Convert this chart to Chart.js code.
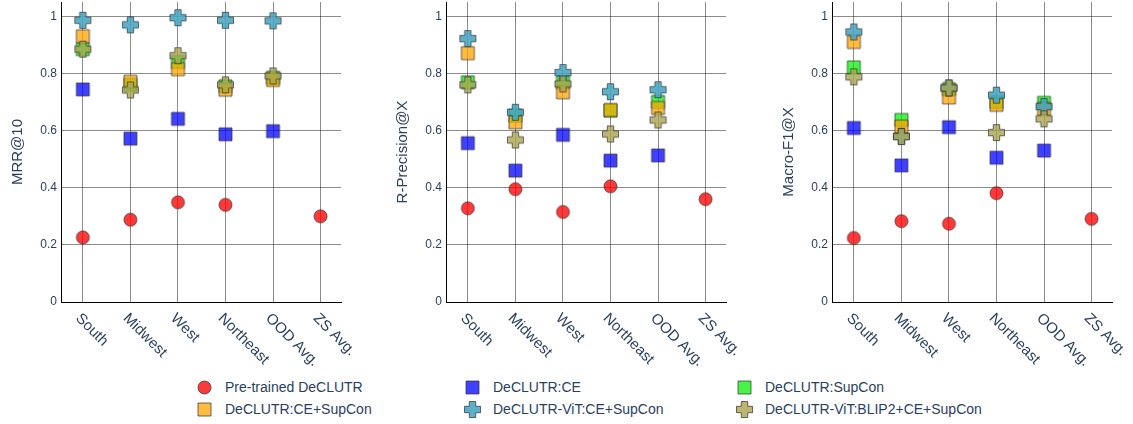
<!DOCTYPE html>
<html>
<head>
<meta charset="utf-8">
<script src="https://cdn.jsdelivr.net/npm/chart.js@4.4.0/dist/chart.umd.min.js"></script>
<style>
  body { margin: 0; background: #fff; width: 1133px; height: 424px; position: relative; overflow: hidden;
         font-family: "Liberation Sans", Arial, sans-serif; }
  canvas.panel { position: absolute; top: 0; }
  .leg { position: absolute; font-size: 14px; color: #2a3f5f; line-height: 18px; white-space: nowrap; }
  .leg canvas { position: absolute; left: -30px; top: 0; }
</style>
</head>
<body>
<canvas id="c1" class="panel" width="360" height="372" style="left:0px"></canvas>
<canvas id="c2" class="panel" width="360" height="372" style="left:385px"></canvas>
<canvas id="c3" class="panel" width="360" height="372" style="left:771px"></canvas>
<div id="legend"></div>
<script>
const regions = ['South', 'Midwest', 'West', 'Northeast', 'OOD Avg.', 'ZS Avg.'];
const seriesNames = ['Pre-trained DeCLUTR', 'DeCLUTR:CE', 'DeCLUTR:SupCon',
  'DeCLUTR:CE+SupCon', 'DeCLUTR-ViT:CE+SupCon', 'DeCLUTR-ViT:BLIP2+CE+SupCon'];
const yTicks = [0, 0.2, 0.4, 0.6, 0.8, 1];

// rows follow seriesNames, columns follow regions
const mrrValues = [
  [0.226, 0.288, 0.349, 0.340, null, 0.300],
  [0.744, 0.572, 0.641, 0.587, 0.598, null],
  [0.885, 0.760, 0.840, 0.755, 0.785, null],
  [0.930, 0.771, 0.815, 0.743, 0.777, null],
  [0.986, 0.970, 0.995, 0.986, 0.984, null],
  [0.885, 0.742, 0.862, 0.760, 0.791, null]
];
const rprecValues = [
  [0.328, 0.395, 0.315, 0.405, null, 0.360],
  [0.556, 0.460, 0.585, 0.495, 0.513, null],
  [0.769, 0.652, 0.769, 0.670, 0.700, null],
  [0.871, 0.629, 0.734, 0.672, 0.679, null],
  [0.922, 0.664, 0.803, 0.736, 0.743, null],
  [0.760, 0.567, 0.763, 0.588, 0.637, null]
];
const f1Values = [
  [0.224, 0.283, 0.274, 0.381, null, 0.291],
  [0.609, 0.478, 0.612, 0.505, 0.530, null],
  [0.821, 0.637, 0.745, 0.700, 0.697, null],
  [0.910, 0.614, 0.716, 0.690, 0.676, null],
  [0.945, 0.580, 0.749, 0.724, 0.684, null],
  [0.788, 0.579, 0.749, 0.593, 0.641, null]
];

const shapes = ['circle', 'square', 'square', 'square', 'cross', 'cross'];
const fills = ['rgba(255,0,0,0.78)', 'rgba(0,0,255,0.75)', 'rgba(0,240,0,0.72)',
  'rgba(255,165,0,0.75)', 'rgba(70,165,195,0.88)', 'rgba(170,165,80,0.8)'];

const textColor = '#2a3f5f';
const fontFam = '"Liberation Sans", Arial, sans-serif';

function makeMarker(shape, fill) {
  const c = document.createElement('canvas');
  c.width = 19; c.height = 19;
  const g = c.getContext('2d');
  g.fillStyle = fill;
  g.strokeStyle = 'rgba(45,45,45,0.7)';
  g.lineWidth = 1;
  g.beginPath();
  if (shape === 'circle') {
    g.arc(9.5, 9.5, 6.5, 0, Math.PI * 2);
  } else if (shape === 'square') {
    g.rect(3, 3, 13, 13);
  } else {
    const a = 3.2, b = 8;
    g.moveTo(9.5 - a, 9.5 - b); g.lineTo(9.5 + a, 9.5 - b); g.lineTo(9.5 + a, 9.5 - a);
    g.lineTo(9.5 + b, 9.5 - a); g.lineTo(9.5 + b, 9.5 + a); g.lineTo(9.5 + a, 9.5 + a);
    g.lineTo(9.5 + a, 9.5 + b); g.lineTo(9.5 - a, 9.5 + b); g.lineTo(9.5 - a, 9.5 + a);
    g.lineTo(9.5 - b, 9.5 + a); g.lineTo(9.5 - b, 9.5 - a); g.lineTo(9.5 - a, 9.5 - a);
    g.closePath();
  }
  g.fill();
  g.stroke();
  return c;
}
const markers = shapes.map((s, i) => makeMarker(s, fills[i]));

// x labels rotated +45deg, starting under each tick
const rotatedLabels = {
  id: 'rotatedLabels',
  afterDraw(chart) {
    const xs = chart.scales.x;
    const ctx = chart.ctx;
    ctx.save();
    ctx.font = '15px ' + fontFam;
    ctx.fillStyle = textColor;
    ctx.textAlign = 'left';
    ctx.textBaseline = 'middle';
    regions.forEach((lab, i) => {
      const x = xs.getPixelForValue(i);
      ctx.save();
      ctx.translate(x - 5, xs.top + 14);
      ctx.rotate(Math.PI / 4);
      ctx.fillText(lab, 0, 0);
      ctx.restore();
    });
    ctx.restore();
  }
};

function makePanel(id, title, values) {
  const datasets = values.map((row, s) => ({
    label: seriesNames[s],
    data: row.map((v, i) => v === null ? null : { x: i, y: v }).filter(p => p),
    pointStyle: markers[s],
    pointRadius: 8,
    showLine: false,
    order: 5 - s
  }));
  new Chart(document.getElementById(id), {
    type: 'scatter',
    data: { datasets },
    plugins: [rotatedLabels],
    options: {
      responsive: false,
      devicePixelRatio: 1,
      animation: false,
      layout: { autoPadding: false, padding: { top: 2, right: 19, bottom: 0, left: 0 } },
      plugins: { legend: { display: false }, tooltip: { enabled: false } },
      scales: {
        x: {
          type: 'linear',
          min: -0.46, max: 5.43,
          afterBuildTicks: (sc) => { sc.ticks = regions.map((r, i) => ({ value: i })); },
          afterFit: (sc) => { sc.height = 70; sc.paddingLeft = 0; sc.paddingRight = 0; },
          ticks: { display: false },
          grid: { color: 'rgba(0,0,0,0.45)', lineWidth: 1, drawTicks: false },
          border: { color: '#000', width: 1 }
        },
        y: {
          min: 0, max: 1.05,
          afterBuildTicks: (sc) => { sc.ticks = yTicks.map(v => ({ value: v })); },
          afterFit: (sc) => { sc.width = 61; sc.paddingTop = 0; sc.paddingBottom = 0; },
          ticks: {
            padding: 4,
            color: textColor,
            font: { family: fontFam, size: 12 },
            callback: (v) => String(v)
          },
          grid: { color: 'rgba(0,0,0,0.45)', lineWidth: 1, drawTicks: false },
          border: { color: '#000', width: 1 },
          title: {
            display: true,
            text: title,
            color: textColor,
            font: { family: fontFam, size: 15 },
            padding: { top: 9, bottom: 0 }
          }
        }
      }
    }
  });
}

makePanel('c1', 'MRR@10', mrrValues);
makePanel('c2', 'R-Precision@X', rprecValues);
makePanel('c3', 'Macro-F1@X', f1Values);

// legend: 3 columns, 2 rows
const legCols = [225, 493, 765];
const legRows = [378, 400];
const legend = document.getElementById('legend');
seriesNames.forEach((name, s) => {
  const d = document.createElement('div');
  d.className = 'leg';
  d.style.left = legCols[s % 3] + 'px';
  d.style.top = legRows[Math.floor(s / 3)] + 'px';
  const m = makeMarker(shapes[s], fills[s]);
  d.appendChild(m);
  d.appendChild(document.createTextNode(name));
  legend.appendChild(d);
});
</script>
</body>
</html>
